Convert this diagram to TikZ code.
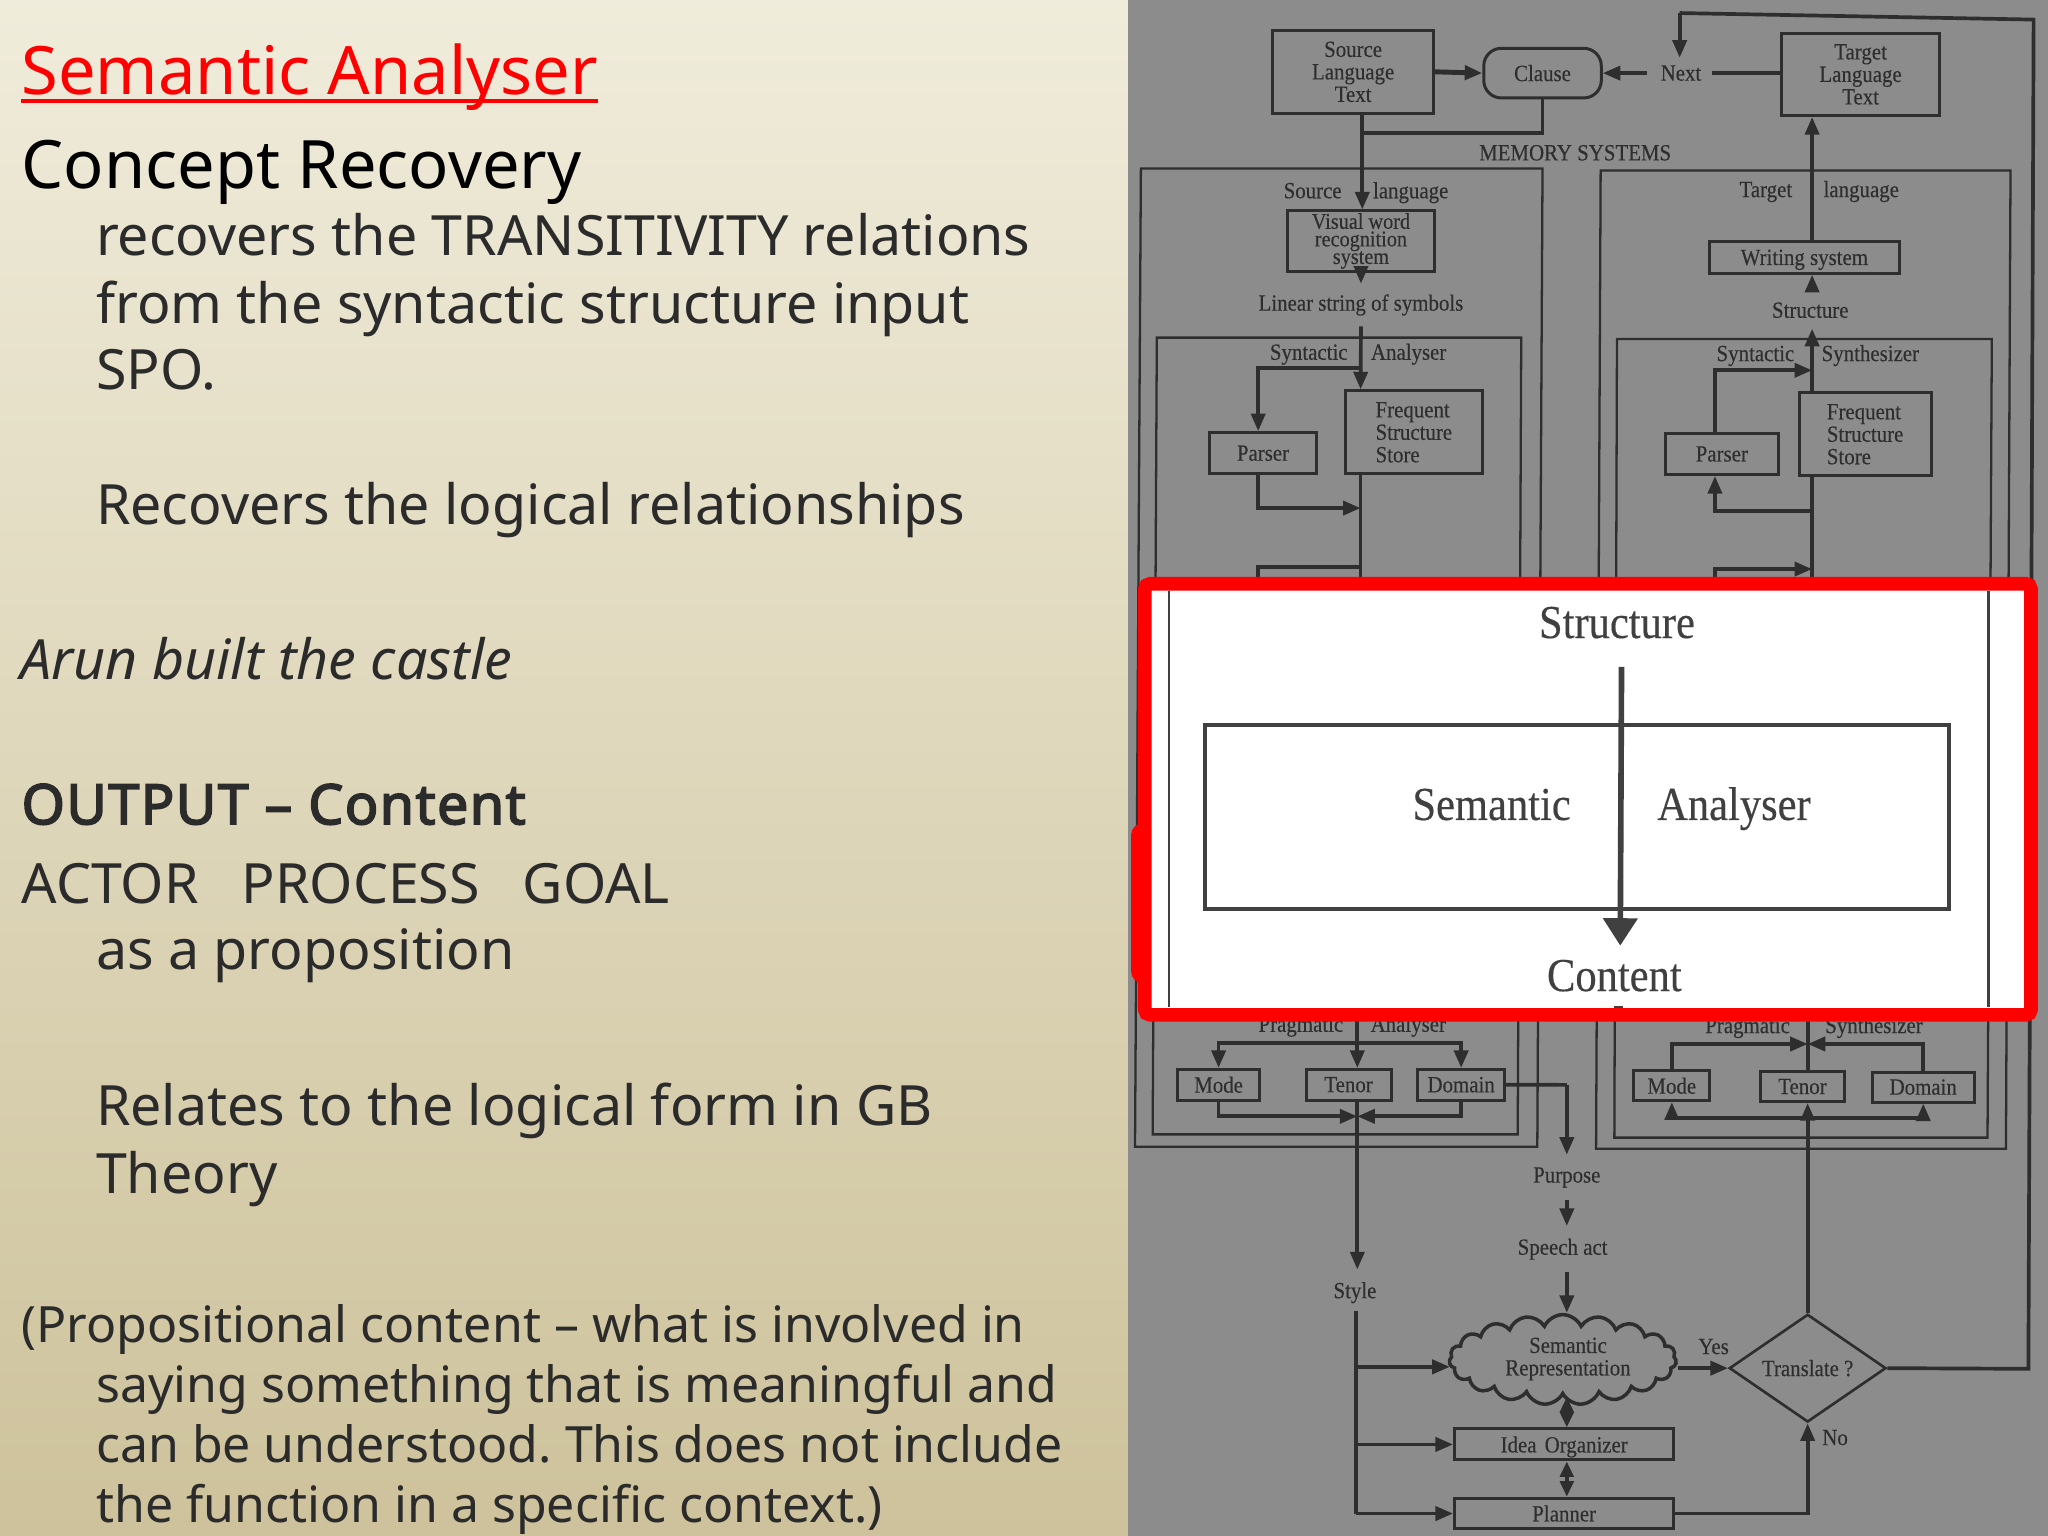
\documentclass[tikz,border=0pt]{standalone}
\usepackage{fontspec}
\usepackage{tikz}
\setmainfont{Noto Sans}
\newfontfamily\slidebold[FakeBold=3, LetterSpace=2.6]{Noto Sans}
\newfontfamily\scanfont[FakeStretch=0.9, FakeBold=0.3]{Liberation Serif}
\usetikzlibrary{positioning}
\usetikzlibrary{calc}
\usetikzlibrary{arrows.meta}
\usetikzlibrary{shapes.geometric}
\usetikzlibrary{shapes.symbols}
\definecolor{slidetop}{HTML}{F0ECDB}
\definecolor{slidebottom}{HTML}{CDC29B}
\definecolor{scangrey}{HTML}{8C8C8C}
\definecolor{scanink}{HTML}{2E2E2E}
\definecolor{bodyink}{HTML}{2B2B2B}
\definecolor{whiteink}{HTML}{404040}
\begin{document}
\frenchspacing
\begin{tikzpicture}[x=0.13061mm, y=-0.13061mm,
        boxsize/.style 2 args={minimum width=#1*0.13061mm, minimum height=#2*0.13061mm},
        scanbox/.style={rectangle, draw=scanink, line width=0.85pt, inner sep=0pt, align=center, text=scanink, font=\scanfont\fontsize{6.6}{6.4}\selectfont},
        scanlist/.style={scanbox, align=left},
        scantag/.style={inner sep=0pt, text=scanink, font=\scanfont\fontsize{6.6}{6.4}\selectfont},
        wall/.style={draw=scanink, line width=0.65pt},
        route/.style={draw=scanink, line width=1.05pt},
        flow/.style={route, -{Triangle[length=5pt, width=4pt]}},
        twoway/.style={route, {Triangle[length=4.4pt, width=3.8pt]}-{Triangle[length=4.4pt, width=3.8pt]}},
        bigtag/.style={inner sep=0pt, text=whiteink, font=\scanfont\fontsize{13.45}{13.5}\selectfont},
        titleline/.style={inner sep=0pt, anchor=base west, font=\fontsize{19}{19}\selectfont},
        bodyline/.style={inner sep=0pt, anchor=base west, text=bodyink, font=\fontsize{15.8}{15.8}\selectfont},
        smallline/.style={inner sep=0pt, anchor=base west, text=bodyink, font=\fontsize{14.23}{14.23}\selectfont}]

        \useasboundingbox (0,0) rectangle (1568,1176);

        % slide background
        \shade[top color=slidetop, bottom color=slidebottom] (0,0) rectangle (864,1176);
        \fill[scangrey] (864,0) rectangle (1568,1176);

        % text column
        \node[titleline, text=red] (title) at (16,72) {Semantic Analyser};
        \draw[red, line width=1.1pt] (title.west |- 0,77.5) -- (458,77.5);
        \node[titleline, text=black] (concept) at (16,144) {Concept Recovery};
        \node[bodyline] (l1) at (73,196) {recovers the TRANSITIVITY relations};
        \node[bodyline] (l2) at (73,247.5) {from the syntactic structure input};
        \node[bodyline] (l3) at (73,298.5) {SPO.};
        \node[bodyline] (l4) at (73,401.5) {Recovers the logical relationships};
        \node[bodyline, font=\fontsize{15.8}{15.8}\selectfont\itshape] (example) at (15,520.5) {Arun built the castle};
        \node[bodyline, font=\slidebold\fontsize{15.8}{15.8}\selectfont] (output) at (16,631) {OUTPUT – Content};
        \node[bodyline] (roles) at (16,691.5) {ACTOR\hspace{0.77em}PROCESS\hspace{0.77em}GOAL};
        \node[bodyline] (l5) at (73,742.5) {as a proposition};
        \node[bodyline] (l6) at (73,862) {Relates to the logical form in GB};
        \node[bodyline] (l7) at (73,913.5) {Theory};
        \node[smallline] (l8) at (16,1027.5) {(Propositional content – what is involved in};
        \node[smallline] (l9) at (73,1073.5) {saying something that is meaningful and};
        \node[smallline] (l10) at (73,1119.5) {can be understood. This does not include};
        \node[smallline] (l11) at (73,1165.5) {the function in a specific context.)};

        % top row
        \node[scanbox, boxsize={123}{64}] (srcText) at (1036,55) {Source\\Language\\Text};
        \node[scanbox, boxsize={90}{38}, rounded corners=5pt] (clause) at (1181,56) {Clause};
        \node[scantag] (next) at (1287,56) {Next};
        \node[scanbox, boxsize={121}{63}] (tgtText) at (1424.5,57) {Target\\Language\\Text};
        \node[scantag] (memory) at (1206,117) {MEMORY SYSTEMS};

        % memory walls
        \draw[wall] (873.5,129) -- (1181,129) -- (1177,878) -- (869,878) -- cycle;
        \draw[wall] (885.7,258.5) -- (1164.7,258.5) -- (1162,868.5) -- (882.5,868.5) -- cycle;
        \draw[wall] (1225.5,130.5) -- (1539.3,130.5) -- (1535.8,879.5) -- (1222,879.5) -- cycle;
        \draw[wall] (1238,259.5) -- (1525,259.5) -- (1521.7,871) -- (1236,871) -- cycle;

        % source side
        \node[scantag] (srcLang) at (1005,146) {Source};
        \node[scantag, base right = 3mm of srcLang] (srcLang2) {language};
        \node[scanbox, boxsize={113}{46}, font=\scanfont\fontsize{6.4}{6.4}\selectfont] (visual) at (1042,184.5) {Visual word\\[-1.4pt]recognition\\[-1.4pt]system};
        \node[scantag] (linear) at (1042,233.5) {Linear string of symbols};
        \node[scantag] (synA) at (1002,271.5) {Syntactic};
        \node[scantag, base right = 2.2mm of synA] (synA2) {Analyser};
        \node[scanbox, boxsize={82.5}{31.5}] (parserA) at (967,347) {Parser};
        \node[scanlist, boxsize={105}{63.5}] (storeA) at (1082.5,331) {Frequent\\Structure\\Store};

        % target side
        \node[scantag] (tgtLang) at (1352,147) {Target};
        \node[scantag, base right = 3mm of tgtLang] (tgtLang2) {language};
        \node[scanbox, boxsize={145}{24.5}, text depth=0pt] (writing) at (1381.5,197) {Writing system};
        \node[scantag] (structB) at (1386,237.5) {Structure};
        \node[scantag] (synB) at (1344,272.5) {Syntactic};
        \node[scantag, base right = 2.6mm of synB] (synB2) {Synthesizer};
        \node[scanbox, boxsize={87}{31.5}] (parserB) at (1318.3,347.6) {Parser};
        \node[scanlist, boxsize={101}{63.5}] (storeB) at (1428,332.5) {Frequent\\Structure\\Store};

        % pragmatic rows
        \node[scantag] (pragA) at (996,786) {Pragmatic};
        \node[scantag, base right = 2.6mm of pragA] (pragA2) {Analyser};
        \node[scanbox, boxsize={62.5}{23.5}] (modeA) at (933,830.5) {Mode};
        \node[scanbox, boxsize={65}{23.5}] (tenorA) at (1032.5,830.5) {Tenor};
        \node[scanbox, boxsize={66.5}{23.5}] (domainA) at (1118.7,830.5) {Domain};
        \node[scantag] (pragB) at (1338,787) {Pragmatic};
        \node[scantag, base right = 3.4mm of pragB] (pragB2) {Synthesizer};
        \node[scanbox, boxsize={58}{23}] (modeB) at (1280,831.3) {Mode};
        \node[scanbox, boxsize={65}{23}] (tenorB) at (1380,831.9) {Tenor};
        \node[scanbox, boxsize={78}{23}] (domainB) at (1472.5,832.3) {Domain};

        % lower part
        \node[scantag] (purpose) at (1199.6,901.5) {Purpose};
        \node[scantag] (speech) at (1196.4,956.4) {Speech act};
        \node[scantag] (style) at (1037.4,989.7) {Style};
        \node[cloud, draw=scanink, line width=1pt, cloud puffs=19, cloud puff arc=130, cloud ignores aspect, boxsize={174}{69}, inner sep=0pt] (semRep) at (1196.5,1041) {};
        \node[scantag, align=center] (semLabel) at (1200.5,1040.5) {Semantic\\Representation};
        \node[scanbox, boxsize={168}{23.7}, text depth=0pt] (idea) at (1197.6,1105.9) {Idea\hspace{0.35em}Organizer};
        \node[scanbox, boxsize={168}{23.5}] (planner) at (1197.6,1158.8) {Planner};
        \node[diamond, draw=scanink, line width=0.75pt, boxsize={120}{82}, inner sep=0pt, text=scanink, font=\scanfont\fontsize{6.6}{6.4}\selectfont] (translate) at (1384,1047.5) {Translate ?};
        \node[scantag] (yes) at (1312,1031) {Yes};
        \node[scantag] (no) at (1405,1100.7) {No};

        % junction points
        \coordinate (srcDrop) at (1043,102);
        \coordinate (srcLeft) at (963.3,282);
        \coordinate (srcMain) at (1041.7,282);
        \coordinate (parserBackA) at (963.3,389);
        \coordinate (hiddenA) at (963.3,434);
        \coordinate (tgtMain) at (1387.4,283.5);
        \coordinate (parserBackB) at (1313,391);
        \coordinate (hiddenB) at (1313,435.7);
        \coordinate (splitA) at (1039.2,798.4);
        \coordinate (mergeA) at (1039.2,854.7);
        \coordinate (mergeB) at (1384,799.3);
        \coordinate (splitB) at (1384,856);
        \coordinate (purposeBend) at (1199.6,830.6);
        \coordinate (styleMain) at (1038.3,1003.9);
        \coordinate (semEntry) at (1110,1046.5);
        \coordinate (backRight) at (1553,1048);
        \coordinate (topRight) at (1557,15);
        \coordinate (topLeft) at (1286,10);

        % source side connectors
        \draw[flow, line width=1.4pt] (srcText.east) -- (clause.west);
        \draw[flow] ([xshift=-1.3mm] next.west) -- (clause.east);
        \draw[route] (tgtText.west |- next.east) -- ([xshift=1mm] next.east);
        \draw[route] (clause.south) |- (srcDrop);
        \draw[flow] (srcText.south -| srcDrop) -- (visual.north -| srcDrop);
        \draw[flow] (visual.south) -- ([yshift=1mm] linear.north);
        \draw[flow] ([yshift=-1mm] linear.south) -- (storeA.north -| srcMain);
        \draw[flow] (srcMain) -| (parserA.north -| srcLeft);
        \draw[route] (storeA.south -| srcMain) -- (1041.7,450);
        \draw[flow] (parserA.south -| srcLeft) |- (parserBackA -| srcMain);
        \draw[route] (963.3,450) |- (hiddenA -| srcMain);

        % target side connectors
        \draw[flow] (writing.north -| tgtMain) -- (tgtText.south -| tgtMain);
        \draw[flow] ([yshift=1mm] structB.north -| tgtMain) -- (writing.south -| tgtMain);
        \draw[flow] (storeB.north -| tgtMain) -- ([yshift=-1mm] structB.south -| tgtMain);
        \draw[flow] (parserB.north -| parserBackB) |- (tgtMain);
        \draw[route] (storeB.south -| tgtMain) -- (1387.4,450);
        \draw[flow] (tgtMain |- parserBackB) -| (parserB.south -| parserBackB);
        \draw[flow] (1313,450) |- (hiddenB -| tgtMain);

        % pragmatic connectors
        \draw[flow] (1039.2,770) -- (tenorA.north -| splitA);
        \draw[flow] (splitA) -| (modeA.north);
        \draw[flow] (splitA) -| (domainA.north);
        \draw[flow] (modeA.south) |- (mergeA);
        \draw[flow] (domainA.south) |- (mergeA);
        \draw[flow] (tenorA.south -| splitA) -- ([yshift=1.2mm] style.north -| splitA);
        \draw[route] (domainA.east) -- (purposeBend);
        \draw[flow] (purposeBend) -- ([yshift=1.2mm] purpose.north -| purposeBend);
        \draw[flow] ([yshift=-1.2mm] purpose.south -| purposeBend) -- ([yshift=1.2mm] speech.north -| purposeBend);
        \draw[flow] ([yshift=-1.2mm] speech.south -| purposeBend) -- (semRep.north -| purposeBend);
        \draw[route] (1384,770) -- (tenorB.north -| mergeB);
        \draw[flow] (modeB.north) |- (mergeB);
        \draw[flow] (domainB.north) |- (mergeB);
        \draw[flow] (splitB) -| (modeB.south);
        \draw[flow] (splitB) -| (domainB.south);
        \draw[flow] (translate.north) -- (tenorB.south -| translate.north);

        % lower connectors
        \draw[route] (styleMain) -- (styleMain |- planner.west);
        \draw[flow] (styleMain |- semEntry) -- (semEntry);
        \draw[flow] (styleMain |- idea.west) -- (idea.west);
        \draw[flow] (styleMain |- planner.west) -- (planner.west);
        \draw[twoway] (semRep.south -| purposeBend) -- (idea.north -| purposeBend);
        \draw[twoway] (idea.south -| purposeBend) -- (planner.north -| purposeBend);
        \draw[flow] (semRep.east |- translate.west) -- (translate.west);
        \draw[flow] (planner.east) -| (translate.south);
        \draw[route] (translate.east) -- (backRight) -- (topRight) -- (topLeft);
        \draw[flow] (topLeft) -- ([yshift=0.7mm] topLeft |- next.north);

        % highlighted window
        \fill[red, rounded corners=3.5pt] (866,630) rectangle (880,753);
        \draw[red, fill=white, line width=3.9pt, rounded corners=1.5pt] (876.5,447) rectangle (1555,777);
        \draw[whiteink, line width=0.7pt] (895,452.5) -- (895,771);
        \draw[whiteink, line width=0.7pt] (1522.6,452.5) -- (1522.6,771);
        \draw[whiteink, line width=2.5pt] (1239,770.2) -- (1239,771.5);
        \node[rectangle, draw=whiteink, line width=1.2pt, boxsize={569.6}{141}] (semantic) at (1207.2,625.5) {};
        \node[bigtag] (structure) at (1238,476.7) {Structure};
        \node[bigtag] (semWord) at (1142,616) {Semantic};
        \node[bigtag, base right = 8.5mm of semWord] (anaWord) {Analyser};
        \node[bigtag] (content) at (1236,747) {Content};
        \draw[whiteink, line width=1.6pt, -{Triangle[length=7.8pt, width=9.6pt]}] (1241.5,510.5) -- (1240.5,724);
\end{tikzpicture}
\end{document}
